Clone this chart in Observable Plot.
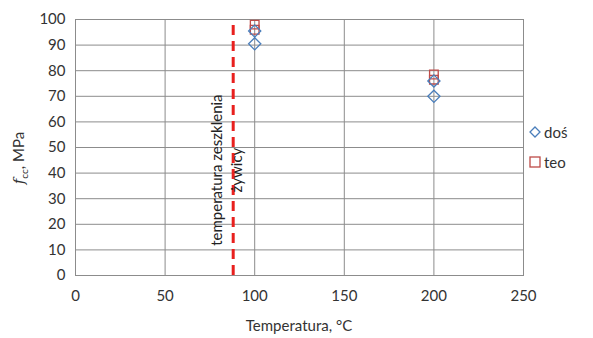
<!DOCTYPE html>
<html><head><meta charset="utf-8">
<script src="https://cdn.jsdelivr.net/npm/d3@7"></script>
<script src="https://cdn.jsdelivr.net/npm/@observablehq/plot@0.6"></script>
<style>
body{margin:0;background:#fff;}
#wrap{position:relative;width:593px;height:338px;font-family:Lato,"Open Sans",sans-serif;}
.leg{position:absolute;left:529px;font-size:15px;color:#333;display:flex;align-items:center;}
.leg svg{margin-right:3px;}
</style>
</head><body>
<div id="wrap"></div>
<script>
const temps = [100, 100, 200, 200];
const dosValues = [95.5, 90.5, 76, 70];
const teoValues = [98, 96, 78.5, 76.5];
const glassTemp = 88;
const xTicks = [0, 50, 100, 150, 200, 250];
const yTicks = [0, 10, 20, 30, 40, 50, 60, 70, 80, 90, 100];
const seriesNames = ["doś", "teo"];
const annotationLines = ["temperatura zeszklenia", "żywicy"];

const blue = "#4a7ebb", red = "#be4b48";
const dos = temps.map((t, i) => ({t, v: dosValues[i]}));
const teo = temps.map((t, i) => ({t, v: teoValues[i]}));

const chart = Plot.plot({
  width: 593, height: 338,
  marginLeft: 75, marginRight: 70, marginTop: 19, marginBottom: 63,
  style: {fontFamily: "Lato, 'Open Sans', sans-serif", fontSize: "15px", color: "#333", background: "#fff"},
  x: {domain: [0, 250], ticks: xTicks, tickSize: 0, tickPadding: 15, label: null},
  y: {domain: [0, 100], ticks: yTicks, tickSize: 0, tickPadding: 10, label: null},
  marks: [
    Plot.gridX(xTicks, {stroke: "#8c8c8c", strokeOpacity: 1}),
    Plot.gridY(yTicks, {stroke: "#8c8c8c", strokeOpacity: 1}),
    Plot.frame({stroke: "#8c8c8c"}),
    Plot.axisX({ticks: xTicks, tickSize: 0, tickPadding: 15, label: null, fontSize: 15}),
    Plot.axisY({ticks: yTicks, tickSize: 0, tickPadding: 10, label: null, fontSize: 15}),
    Plot.ruleX([glassTemp], {y1: 0, y2: 100, stroke: "#e8201e", strokeWidth: 3, strokeDasharray: "10,6"}),
    Plot.text([annotationLines.join("\n")], {x: glassTemp, y: 40, rotate: -90, dx: -8, dy: -3, lineHeight: 1.35, fontSize: 15, fill: "#222", textAnchor: "middle"}),
    Plot.dot(teo, {x: "t", y: "v", symbol: "square2", r: 5.5, stroke: red, strokeWidth: 1.3, fill: "none"}),
    Plot.dot(dos, {x: "t", y: "v", symbol: "diamond2", r: 5.5, stroke: blue, strokeWidth: 1.3, fill: "none"})
  ]
});
const wrap = document.getElementById("wrap");
wrap.appendChild(chart);

// axis titles
const svg = d3.select(chart);
svg.append("text").attr("x", 299).attr("y", 331).attr("text-anchor", "middle")
  .attr("font-size", 15).attr("fill", "#333").text("Temperatura, °C");
const yl = svg.append("text").attr("transform", "translate(24,158) rotate(-90)")
  .attr("text-anchor", "middle").attr("font-size", 15).attr("fill", "#333");
yl.append("tspan").attr("font-style", "italic").attr("font-family", "'DejaVu Serif', serif").text("f");
yl.append("tspan").attr("font-size", 10).attr("dy", 4).text("cc");
yl.append("tspan").attr("dy", -4).text(", MPa");

// legend
const leg = [
  {name: seriesNames[0], top: 123, sym: `<svg width="12" height="12"><path d="M6 1 L11 6 L6 11 L1 6 Z" fill="none" stroke="${blue}" stroke-width="1.3"/></svg>`},
  {name: seriesNames[1], top: 153, sym: `<svg width="12" height="12"><rect x="1" y="1" width="10" height="10" fill="none" stroke="${red}" stroke-width="1.3"/></svg>`}
];
leg.forEach(l => {
  const d = document.createElement("div");
  d.className = "leg"; d.style.top = l.top + "px";
  d.innerHTML = l.sym + "<span>" + l.name + "</span>";
  wrap.appendChild(d);
});
</script>
</body></html>
